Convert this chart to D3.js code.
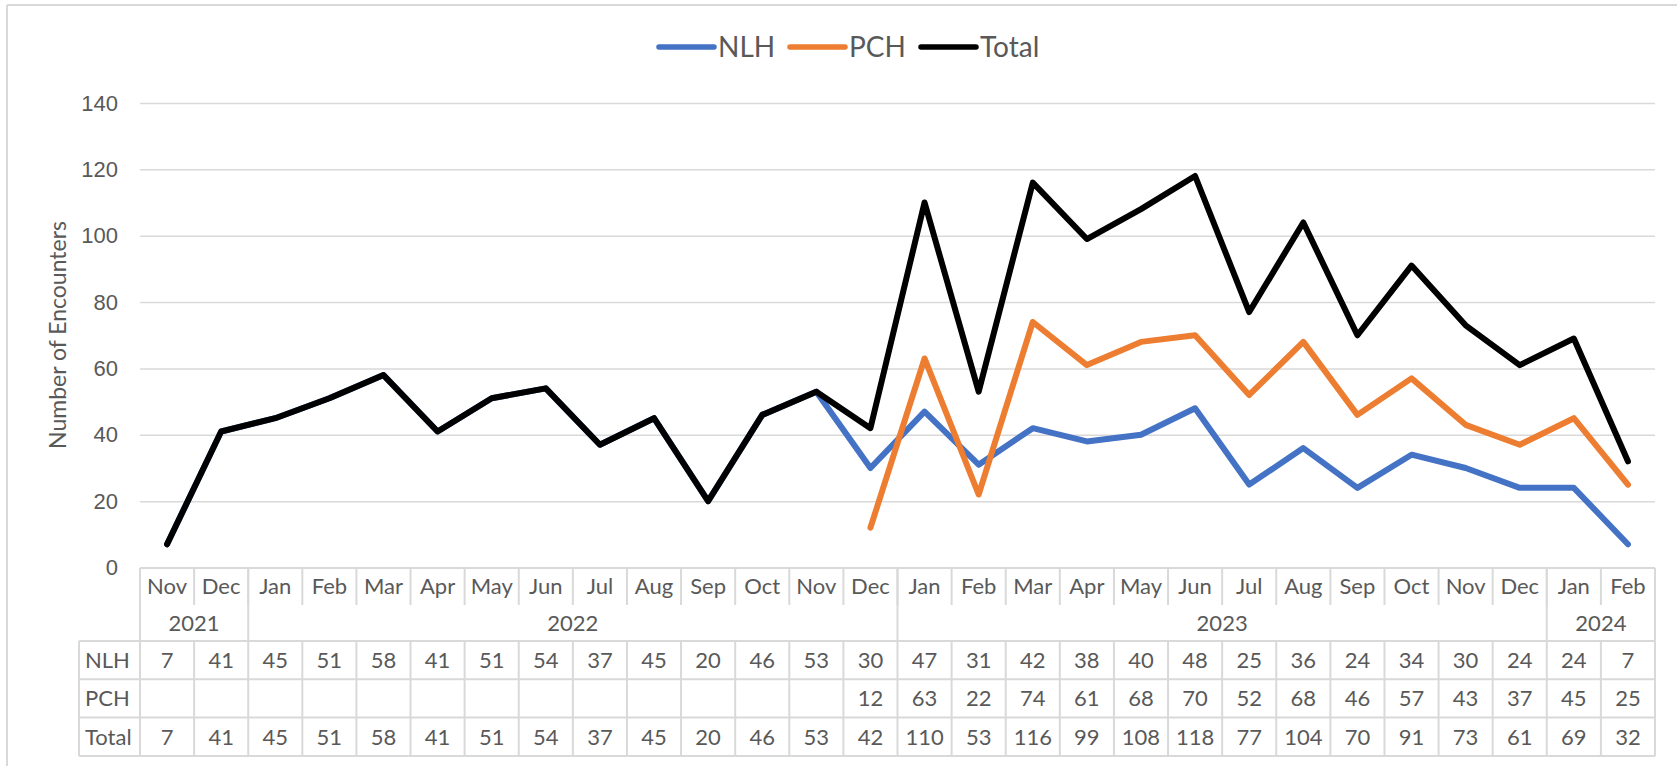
<!DOCTYPE html>
<html>
<head>
<meta charset="utf-8">
<script src="https://cdn.jsdelivr.net/npm/d3@7"></script>
<style>
  body { margin: 0; background: #fff; }
  svg { display: block; font-family: Lato, "Open Sans", sans-serif; }
  .grid line { stroke: #d9d9d9; stroke-width: 1.5; }
  .grid text { fill: #595959; font-size: 22px; }
  .cell { fill: #595959; font-size: 22px; }
  .tbl { stroke: #d9d9d9; stroke-width: 2; }
</style>
</head>
<body>
<div id="container"></div>
<script>
// data
var months = ["Nov", "Dec", "Jan", "Feb", "Mar", "Apr", "May", "Jun", "Jul", "Aug", "Sep", "Oct", "Nov", "Dec",
              "Jan", "Feb", "Mar", "Apr", "May", "Jun", "Jul", "Aug", "Sep", "Oct", "Nov", "Dec", "Jan", "Feb"];
var years = ["2021", "2022", "2023", "2024"];
var yearCounts = [2, 12, 12, 2];
var nlh = [7, 41, 45, 51, 58, 41, 51, 54, 37, 45, 20, 46, 53, 30, 47, 31, 42, 38, 40, 48, 25, 36, 24, 34, 30, 24, 24, 7];
var pch = [null, null, null, null, null, null, null, null, null, null, null, null, null,
           12, 63, 22, 74, 61, 68, 70, 52, 68, 46, 57, 43, 37, 45, 25];
var total = [7, 41, 45, 51, 58, 41, 51, 54, 37, 45, 20, 46, 53, 42, 110, 53, 116, 99, 108, 118, 77, 104, 70, 91, 73, 61, 69, 32];
var yTicks = [0, 20, 40, 60, 80, 100, 120, 140];

var series = [
    { name: "NLH", values: nlh, color: "#4472C4" },
    { name: "PCH", values: pch, color: "#ED7D31" },
    { name: "Total", values: total, color: "#000000" }
];

var width = 1677,
    height = 766;

var svg = d3.select("#container").append("svg")
    .attr("width", width)
    .attr("height", height);

// outer chart border (only left and top fall inside the picture)
svg.append("line").attr("class", "tbl").attr("x1", 7).attr("y1", 5).attr("x2", 7).attr("y2", height);
svg.append("line").attr("class", "tbl").attr("x1", 7).attr("y1", 5).attr("x2", width).attr("y2", 5);

var left = 140, right = 1655;
var x = d3.scaleBand().domain(d3.range(months.length)).range([left, right]);
var y = d3.scaleLinear().domain([0, 140]).range([567.5, 103]);
var bw = x.bandwidth();

// gridlines + tick labels
var yAxis = svg.append("g")
    .attr("class", "grid")
    .attr("transform", "translate(" + left + ",0)")
    .call(d3.axisLeft(y).tickValues(yTicks).tickSize(-(right - left)).tickPadding(22));
yAxis.select(".domain").remove();

svg.append("text")
    .attr("transform", "translate(58,335) rotate(-90)")
    .attr("text-anchor", "middle")
    .attr("dy", "0.35em")
    .attr("fill", "#595959")
    .style("font-size", "23px")
    .text("Number of Encounters");

// lines
var line = d3.line()
    .defined(function (d) { return d != null; })
    .x(function (d, i) { return x(i) + bw / 2; })
    .y(function (d) { return y(d); });

svg.selectAll(".series").data(series)
    .enter().append("path")
    .attr("class", "series")
    .attr("fill", "none")
    .attr("stroke", function (d) { return d.color; })
    .attr("stroke-width", 6)
    .attr("stroke-linejoin", "round")
    .attr("stroke-linecap", "round")
    .attr("d", function (d) { return line(d.values); });

// legend
var legendX = [659, 790, 921];
var legend = svg.selectAll(".legend").data(series)
    .enter().append("g")
    .attr("class", "legend")
    .attr("transform", function (d, i) { return "translate(" + legendX[i] + ",47)"; });
legend.append("line")
    .attr("x1", 0).attr("x2", 55)
    .attr("stroke", function (d) { return d.color; })
    .attr("stroke-width", 5.5)
    .attr("stroke-linecap", "round");
legend.append("text")
    .attr("x", 59)
    .attr("dy", "0.36em")
    .attr("fill", "#595959")
    .style("font-size", "28px")
    .text(function (d) { return d.name; });

// data table
var rowTop = 568, monthBot = 605, yearBot = 641, rowH = 38.3, headLeft = 79;
var tbl = svg.append("g");

tbl.append("line").attr("class", "tbl")
    .attr("x1", left).attr("x2", right).attr("y1", rowTop).attr("y2", rowTop);

// month separators
tbl.selectAll(".msep").data(d3.range(months.length + 1))
    .enter().append("line")
    .attr("class", "tbl")
    .attr("x1", function (i) { return left + i * bw; })
    .attr("x2", function (i) { return left + i * bw; })
    .attr("y1", rowTop).attr("y2", monthBot);

// year boundaries
var bounds = [0];
yearCounts.forEach(function (c, i) { bounds.push(bounds[i] + c); });
tbl.selectAll(".ysep").data(bounds)
    .enter().append("line")
    .attr("class", "tbl")
    .attr("x1", function (i) { return left + i * bw; })
    .attr("x2", function (i) { return left + i * bw; })
    .attr("y1", rowTop).attr("y2", yearBot);

tbl.selectAll(".mlab").data(months)
    .enter().append("text")
    .attr("class", "cell")
    .attr("x", function (d, i) { return x(i) + bw / 2; })
    .attr("y", (rowTop + monthBot) / 2)
    .attr("dy", "0.36em")
    .attr("text-anchor", "middle")
    .text(function (d) { return d; });

tbl.selectAll(".ylab").data(years)
    .enter().append("text")
    .attr("class", "cell")
    .attr("x", function (d, i) { return left + (bounds[i] + bounds[i + 1]) / 2 * bw; })
    .attr("y", (monthBot + yearBot) / 2)
    .attr("dy", "0.36em")
    .attr("text-anchor", "middle")
    .text(function (d) { return d; });

// value rows
tbl.selectAll(".hline").data(d3.range(4))
    .enter().append("line")
    .attr("class", "tbl")
    .attr("x1", headLeft).attr("x2", right)
    .attr("y1", function (r) { return yearBot + r * rowH; })
    .attr("y2", function (r) { return yearBot + r * rowH; });

tbl.selectAll(".vline").data([headLeft].concat(d3.range(months.length + 1).map(function (i) { return left + i * bw; })))
    .enter().append("line")
    .attr("class", "tbl")
    .attr("x1", function (d) { return d; }).attr("x2", function (d) { return d; })
    .attr("y1", yearBot).attr("y2", yearBot + 3 * rowH);

series.forEach(function (s, r) {
    var cy = yearBot + r * rowH + rowH / 2;
    tbl.append("text")
        .attr("class", "cell")
        .attr("x", headLeft + 6)
        .attr("y", cy)
        .attr("dy", "0.36em")
        .text(s.name);
    tbl.selectAll(".v" + r).data(s.values)
        .enter().append("text")
        .attr("class", "cell")
        .attr("x", function (d, i) { return x(i) + bw / 2; })
        .attr("y", cy)
        .attr("dy", "0.36em")
        .attr("text-anchor", "middle")
        .text(function (d) { return d == null ? "" : d; });
});
</script>
</body>
</html>
